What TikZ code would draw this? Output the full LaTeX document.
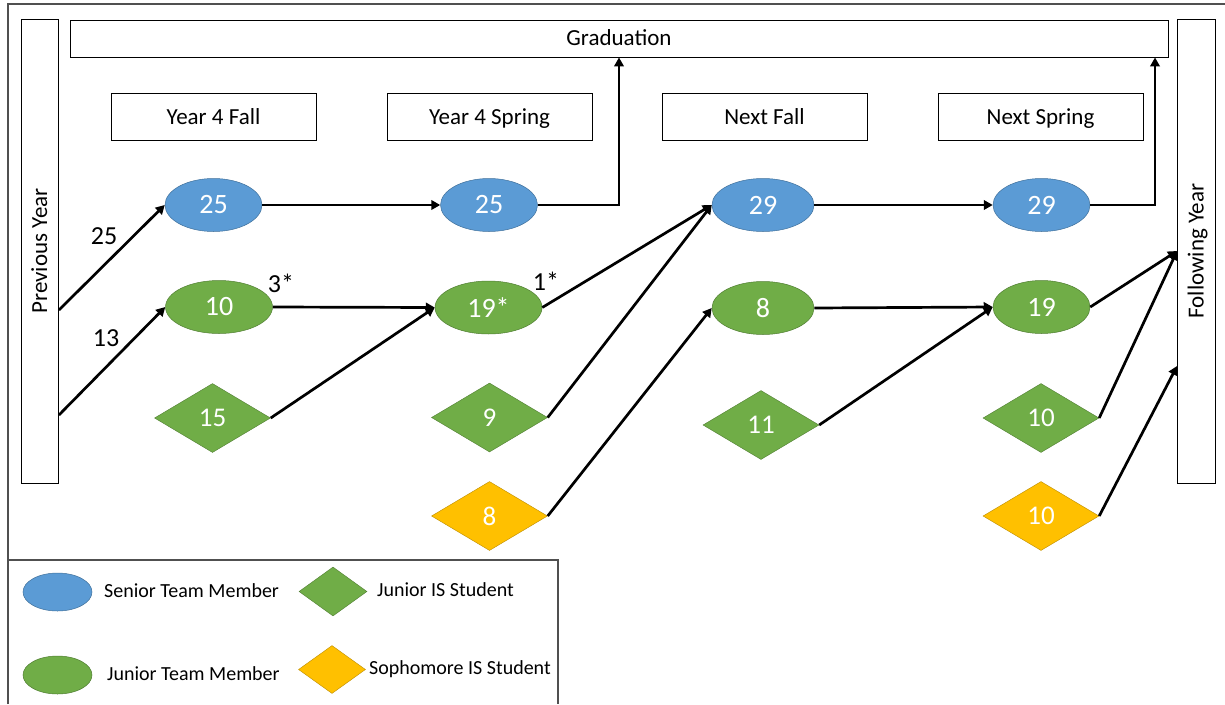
\documentclass[tikz,border=0pt]{standalone}
\usepackage{fontspec}
\setmainfont{Carlito}
\usetikzlibrary{shapes.geometric,arrows.meta,calc}
\definecolor{sblue}{HTML}{5B9BD5}
\definecolor{sblueedge}{HTML}{41719C}
\definecolor{jgreen}{HTML}{70AD47}
\definecolor{jgreenedge}{HTML}{507E32}
\definecolor{sgold}{HTML}{FFC000}
\definecolor{sgoldedge}{HTML}{BC8C00}
\definecolor{framegray}{HTML}{505050}
\tikzset{
  px/.style={font=\fontsize{#1}{#1}\selectfont},
  labelbox/.style={draw=black, line width=0.9pt, fill=white, inner sep=0pt, px=23, text height=17pt, text depth=3pt},
  senior/.style={ellipse, fill=sblue, draw=sblueedge, line width=0.5pt, minimum width=97pt, minimum height=53pt, inner sep=0pt, text=white, px=28},
  juniortm/.style={ellipse, fill=jgreen, draw=jgreenedge, line width=0.5pt, minimum width=107pt, minimum height=53pt, inner sep=0pt, text=white, px=28},
  juniorIS/.style={diamond, fill=jgreen, draw=jgreenedge, line width=0.4pt, minimum width=116pt, minimum height=69pt, inner sep=0pt, text=white, px=27},
  sophIS/.style={diamond, fill=sgold, draw=sgoldedge, line width=0.4pt, minimum width=116pt, minimum height=69pt, inner sep=0pt, text=white, px=27},
  flow/.style={line width=2.7pt, -{Triangle[length=9pt,width=9.5pt]}},
  flowlabel/.style={px=26, inner sep=0pt},
  legendtext/.style={px=20, inner sep=0pt, anchor=west, text height=14pt, text depth=4pt},
}
\begin{document}
\begin{tikzpicture}[x=1pt,y=-1pt]
\useasboundingbox (0,0) rectangle (1225,704);

% outer frame and legend frame
\draw[framegray, line width=1.3pt] (8,704) -- (8,4) -- (1225,4);
\draw[framegray, line width=1.3pt] (8,560) -- (558,560) -- (558,704);

% side and header boxes
\node[labelbox, minimum width=37pt, minimum height=464pt] (prev) at (40,251) {};
\node[rotate=90, px=23, text height=17pt, text depth=3pt] (prevtxt) at (prev.center) {Previous Year};
\node[labelbox, minimum width=38pt, minimum height=464pt] (fol) at (1196.5,251) {};
\node[rotate=90, px=23, text height=17pt, text depth=3pt] (foltxt) at (fol.center) {Following Year};
\node[labelbox, minimum width=1098pt, minimum height=37pt] (grad) at (619,38.5) {Graduation};

\node[labelbox, minimum width=205pt, minimum height=47pt] (t1) at (213.5,117) {Year 4 Fall};
\node[labelbox, minimum width=205pt, minimum height=47pt] (t2) at (489.5,117) {Year 4 Spring};
\node[labelbox, minimum width=205pt, minimum height=47pt] (t3) at (764.5,117) {Next Fall};
\node[labelbox, minimum width=205pt, minimum height=47pt] (t4) at (1040.5,117) {Next Spring};

% senior team members
\node[senior] (s1) at (213.5,205) {25};
\node[senior] (s2) at (489,205) {25};
\node[senior, minimum width=102pt] (s3) at (763,205) {29};
\node[senior] (s4) at (1041.5,205) {29};

% junior team members
\node[juniortm] (j1) at (219,307) {10};
\node[juniortm] (j2) at (488.5,307.5) {19*};
\node[juniortm, minimum width=102pt] (j3) at (763,308) {8};
\node[juniortm, minimum width=97pt] (j4) at (1041.5,307) {19};

% junior IS students
\node[juniorIS] (d1) at (212.5,418) {15};
\node[juniorIS] (d2) at (489.5,417.5) {9};
\node[juniorIS] (d3) at (761,425) {11};
\node[juniorIS] (d4) at (1041,418) {10};

% sophomore IS students
\node[sophIS] (g1) at (489.5,516) {8};
\node[sophIS] (g2) at (1041,516) {10};

% incoming from previous year
\draw[flow] ([yshift=-59pt]prev.east) -- (s1.west);
\draw[flow] ([yshift=-164pt]prev.east) -- (j1.west);
\node[flowlabel] (l25) at (104,236) {25};
\node[flowlabel] (l13) at (106,338) {13};

% first year
\draw[flow] (s1.east) -- (s2.west);
\draw[flow] (j1.east) -- (j2.west);
\draw[flow] (d1.east) -- (j2.west);
\node[flowlabel] (l3) at (281,283) {3*};
\draw[flow] (s2.east) -| (grad.south);

% into next year
\draw[flow] (j2.east) -- (s3.west);
\draw[flow] (d2.east) -- (s3.west);
\draw[flow] (g1.east) -- (j3.west);
\node[flowlabel] (l1) at (546,281) {1*};

% second year
\draw[flow] (s3.east) -- (s4.west);
\draw[flow] (j3.east) -- (j4.west);
\draw[flow] (d3.east) -- (j4.west);
\draw[flow] (s4.east) -| ([xshift=536pt]grad.south);

% out to following year
\draw[flow] (j4.east) -- (fol.west);
\draw[flow] (d4.east) -- (fol.west);
\draw[flow] (g2.east) -- ([yshift=-115pt]fol.west);

% legend
\node[senior, minimum width=69pt, minimum height=38pt] (ks) at (57.5,592) {};
\node[legendtext] (kst) at (104,592) {Senior Team Member};
\node[juniortm, minimum width=69pt, minimum height=38pt] (kj) at (57.5,675) {};
\node[legendtext] (kjt) at (107,675) {Junior Team Member};
\node[juniorIS, minimum width=68pt, minimum height=49pt] (kd) at (333,591.5) {};
\node[legendtext] (kdt) at (377,591) {Junior IS Student};
\node[sophIS, minimum width=67pt, minimum height=48pt] (kg) at (332,669.5) {};
\node[legendtext] (kgt) at (369,669) {Sophomore IS Student};
\end{tikzpicture}
\end{document}
